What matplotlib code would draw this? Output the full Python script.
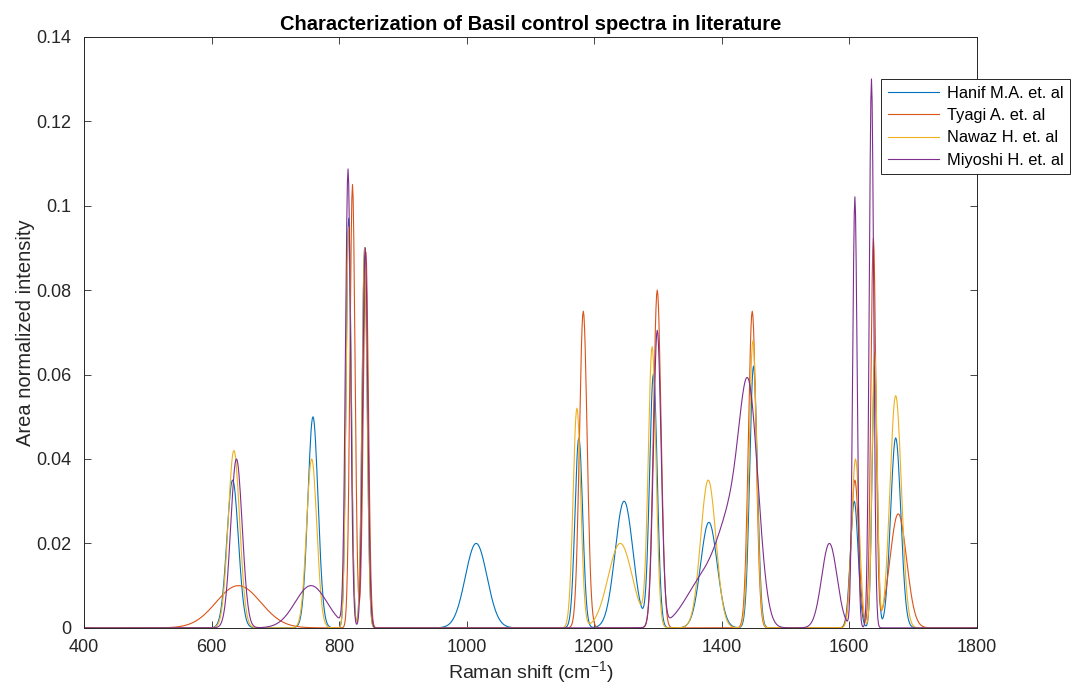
import numpy as np
import matplotlib
matplotlib.use("Agg")
import matplotlib.pyplot as plt

plt.rcParams['font.family'] = ['Liberation Sans', 'DejaVu Sans']
plt.rcParams['mathtext.default'] = 'regular'

# Raman shift axis (cm^-1)
shift = np.arange(400, 1801, 1.0)

# peak tables per study: centre (cm^-1), height, sigma (cm^-1)
hanif_centres = [633, 759, 815, 840, 1015, 1176, 1247, 1293, 1380, 1450, 1608, 1640, 1673]
hanif_heights = [0.035, 0.050, 0.097, 0.090, 0.020, 0.045, 0.030, 0.060, 0.025, 0.062, 0.030, 0.062, 0.045]
hanif_sigmas = [9, 8, 4, 4, 17, 6, 14, 6, 13, 6, 6, 4, 8]

tyagi_centres = [642, 821, 842, 1183, 1299, 1448, 1609, 1638, 1677]
tyagi_heights = [0.0100, 0.105, 0.089, 0.075, 0.080, 0.075, 0.035, 0.092, 0.027]
tyagi_sigmas = [35, 4, 4, 6, 6, 6, 6, 4, 13]

nawaz_centres = [635, 757, 815, 840, 1173, 1241, 1291, 1379, 1449, 1610, 1640, 1673]
nawaz_heights = [0.042, 0.040, 0.095, 0.090, 0.052, 0.020, 0.066, 0.035, 0.068, 0.040, 0.065, 0.055]
nawaz_sigmas = [9, 8, 4, 4, 6, 19, 6, 12, 6, 6, 4, 9]

miyoshi_centres = [639, 756, 814, 841, 1299, 1375, 1415, 1443, 1569, 1609, 1635]
miyoshi_heights = [0.040, 0.010, 0.108, 0.090, 0.070, 0.012, 0.020, 0.050, 0.020, 0.102, 0.130]
miyoshi_sigmas = [9, 25, 4, 4, 6, 30, 20, 15, 12, 3.5, 3.5]

labels = ['Hanif M.A. et. al', 'Tyagi A. et. al', 'Nawaz H. et. al', 'Miyoshi H. et. al']
colours = ['#0072BD', '#D95319', '#EDB120', '#7E2F8E']


def spectrum(centres, heights, sigmas):
    y = np.zeros_like(shift)
    for c, h, s in zip(centres, heights, sigmas):
        y += h * np.exp(-0.5 * ((shift - c) / s) ** 2)
    return y


series = [
    spectrum(hanif_centres, hanif_heights, hanif_sigmas),
    spectrum(tyagi_centres, tyagi_heights, tyagi_sigmas),
    spectrum(nawaz_centres, nawaz_heights, nawaz_sigmas),
    spectrum(miyoshi_centres, miyoshi_heights, miyoshi_sigmas),
]

fig = plt.figure(figsize=(10.78, 6.93), dpi=100)
ax = fig.add_axes([0.078, 0.094, 0.828, 0.853])

for y, lab, col in zip(series, labels, colours):
    ax.plot(shift, y, color=col, lw=0.8, label=lab)

ax.set_xlim(400, 1800)
ax.set_ylim(0, 0.14)
ax.set_xticks(np.arange(400, 1801, 200))
ax.set_yticks(np.arange(0, 0.141, 0.02))
ax.set_yticklabels(['0', '0.02', '0.04', '0.06', '0.08', '0.1', '0.12', '0.14'])
ax.tick_params(direction='in', top=True, right=True, length=5, width=0.6,
               labelsize=13, colors='#262626')
ax.tick_params(axis='x', pad=8)
ax.tick_params(axis='y', pad=9)
for sp in ax.spines.values():
    sp.set_linewidth(0.7)
    sp.set_color('#262626')

ax.set_xlabel('Raman shift (cm$^{-1}$)', fontsize=14, color='#262626', labelpad=2)
ax.set_ylabel('Area normalized intensity', fontsize=14.5, color='#262626', labelpad=1)
ax.set_title('Characterization of Basil control spectra in literature',
             fontsize=14.5, fontweight='bold', pad=5)

leg = ax.legend(loc='upper right', bbox_to_anchor=(0.9926, 0.886),
                bbox_transform=fig.transFigure, fontsize=11.8, fancybox=False,
                edgecolor='#262626', framealpha=1, handlelength=3.1,
                borderpad=0.4, labelspacing=0.45, handletextpad=0.5,
                borderaxespad=0)
leg.get_frame().set_linewidth(0.7)

fig.savefig('out.png', dpi=100)
